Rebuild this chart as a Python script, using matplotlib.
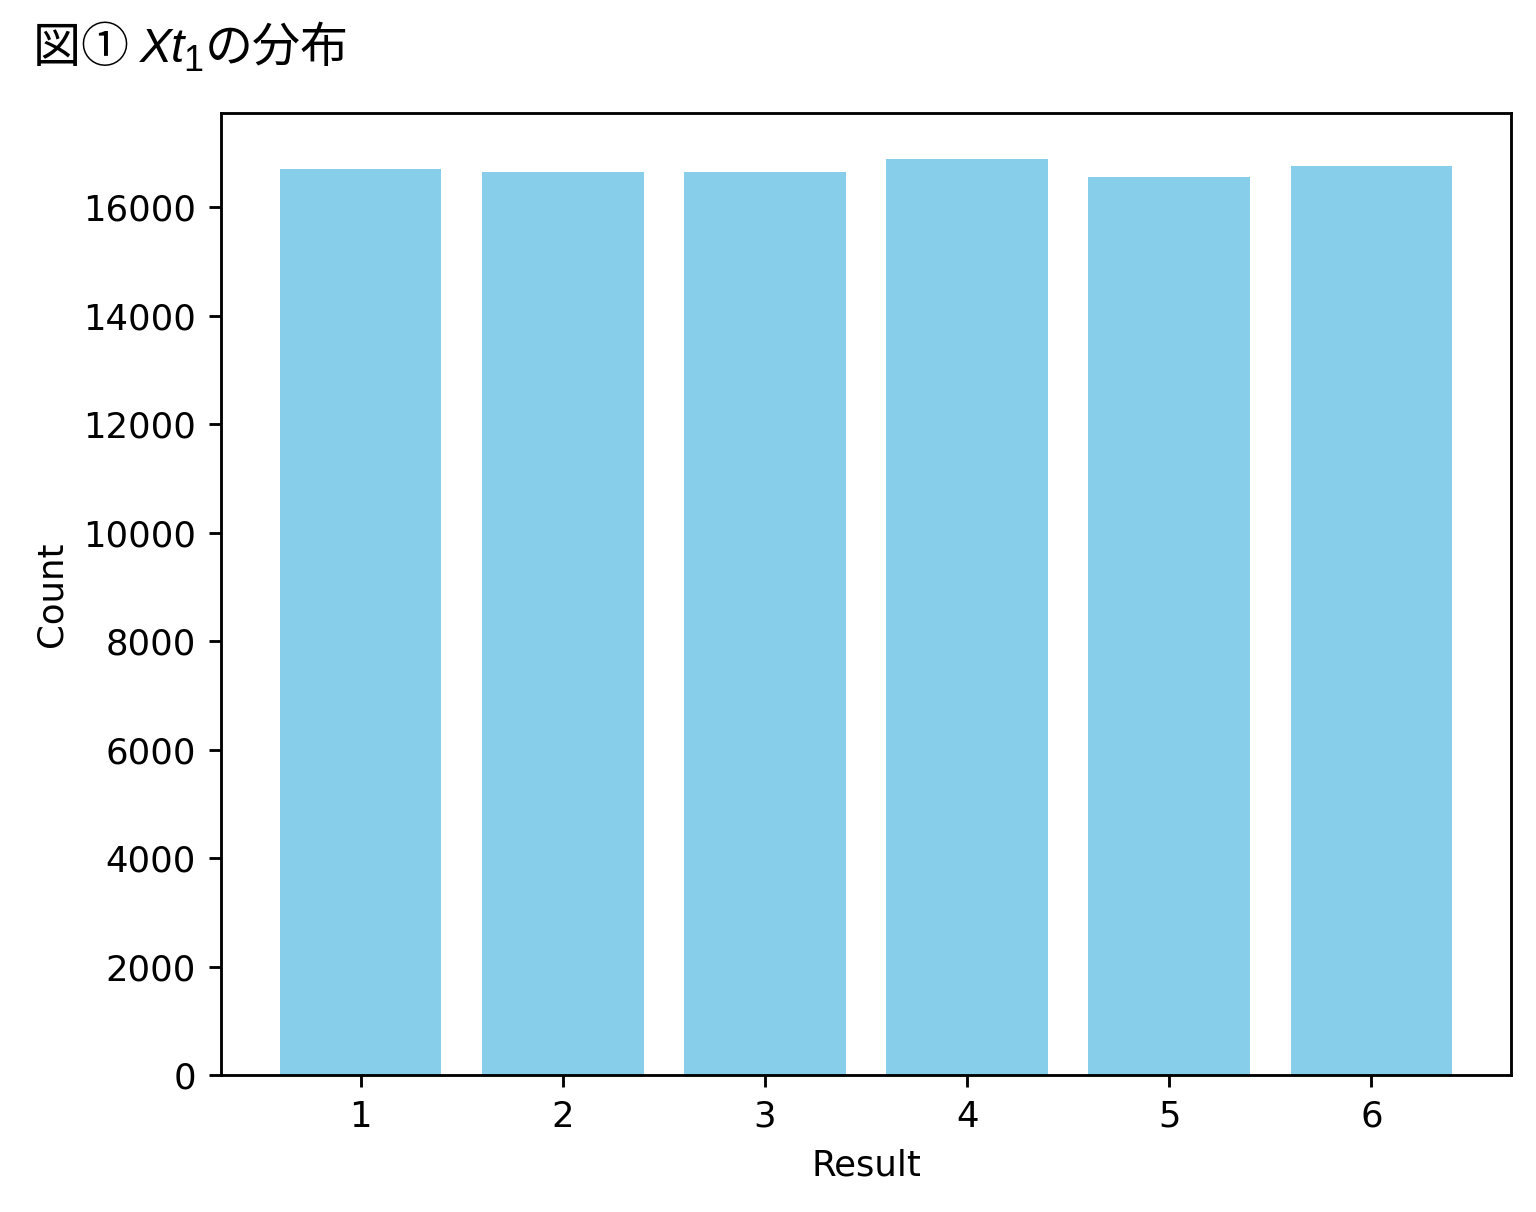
import matplotlib
matplotlib.use("Agg")
import matplotlib.pyplot as plt

results = [1, 2, 3, 4, 5, 6]
counts = [16700, 16650, 16650, 16890, 16560, 16760]

DPI = 256
fig = plt.figure(figsize=(1536/DPI, 1212/DPI), dpi=DPI)
ax = fig.add_axes([221/1536, 1-1075/1212, (1511-221)/1536, (1075-113)/1212])
ax.bar(results, counts, color='skyblue', width=0.8)
ax.set_xticks(results)
ax.set_xlabel('Result')
ax.set_ylabel('Count')

# Title built from pieces so CJK and italic latin can mix
cjk = ['Noto Sans CJK JP', 'DejaVu Sans']
base_y = 1 - 62/1212
fs = 13.5
pieces = [
    ('図① ', dict(family=cjk, fontsize=fs), 0.0, 0.0),
    ('Xt', dict(family='Liberation Sans', style='italic', fontsize=fs), 0.0, -0.001),
    ('1', dict(family='Liberation Sans', fontsize=fs*0.75), -9/1212, 0.001),
    ('の分布', dict(family=cjk, fontsize=fs), 0.0, 0.0),
]
renderer = fig.canvas.get_renderer()
x = 33/1536
for s, kw, dy, gap in pieces:
    t = fig.text(x, base_y + dy, s, va='baseline', ha='left', **kw)
    bb = t.get_window_extent(renderer=renderer)
    x = bb.x1 / fig.bbox.width + gap

fig.savefig('out.png', dpi=DPI)
